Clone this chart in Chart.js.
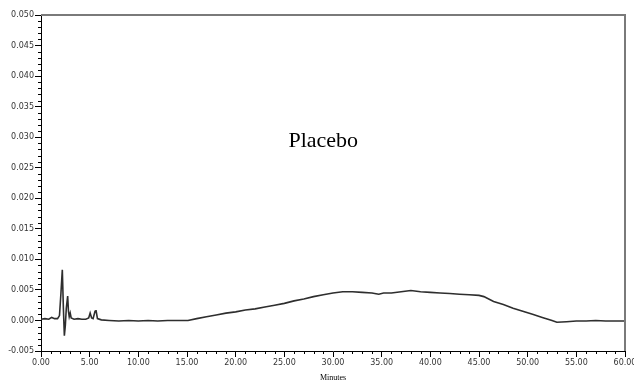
<!DOCTYPE html>
<html>
<head>
<meta charset="utf-8">
<script src="https://cdn.jsdelivr.net/npm/chart.js"></script>
<style>
  body { margin: 0; background: #fff; }
  #wrap { width: 634px; height: 383px; }
</style>
</head>
<body>
<div id="wrap"><canvas id="chromChart" width="634" height="383"></canvas></div>
<script>
// retention time (min) and detector response (AU)
const minutes = [
    0.0, 0.4, 0.8, 1.1, 1.4, 1.7, 1.9, 2.05, 2.19, 2.3, 2.4, 2.5, 2.6, 2.74, 2.82, 2.9, 3.0, 3.1,
    3.4, 3.8, 4.2, 4.6, 4.9, 5.05, 5.2, 5.35, 5.55, 5.65, 5.8, 6.2, 7.0, 8.0, 9.0, 10.0, 11.0,
    12.0, 13.0, 14.0, 15.1, 16.0, 17.0, 18.0, 19.0, 20.0, 21.0, 22.0, 23.0, 24.0, 25.0, 26.0,
    27.0, 28.0, 29.0, 30.0, 31.0, 32.0, 33.0, 34.0, 34.7, 35.2, 36.0, 37.0, 38.0, 39.0, 40.0,
    41.0, 42.0, 43.0, 44.0, 45.0, 45.5, 46.5, 47.5, 48.5, 49.5, 50.5, 51.5, 52.5, 53.0, 54.0,
    55.0, 56.0, 57.0, 58.0, 59.0, 60.0
];
const placebo = [
    0.0002, 0.0003, 0.0002, 0.0005, 0.0003, 0.0003, 0.0008, 0.0045, 0.0083, 0.0020, -0.0025, -0.0008,
    0.0020, 0.0040, 0.0015, 0.0006, 0.0012, 0.0004,
    0.0002, 0.0003, 0.0002, 0.0002, 0.0004, 0.0012, 0.0004, 0.0003, 0.0015, 0.0017, 0.0003, 0.0001,
    0.0000, -0.0001, 0.0000, -0.0001, 0.0000,
    -0.0001, 0.0000, 0.0000, 0.0000, 0.0003, 0.0006, 0.0009, 0.0012, 0.0014, 0.0017, 0.0019, 0.0022,
    0.0025, 0.0028, 0.0032,
    0.0035, 0.0039, 0.0042, 0.0045, 0.0047, 0.0047, 0.0046, 0.0045, 0.0043, 0.0045, 0.0045, 0.0047,
    0.0049, 0.0047, 0.0046,
    0.0045, 0.0044, 0.0043, 0.0042, 0.0041, 0.0039, 0.0031, 0.0026, 0.0020, 0.0015, 0.0010, 0.0005,
    0.0000, -0.0003, -0.0002,
    -0.0001, -0.0001, 0.0000, -0.0001, -0.0001, -0.0001
];
const sampleName = 'Placebo';
const xTitle = 'Minutes';

const tickFont = { family: 'DejaVu Sans', size: 8 };

// small ticks between the labelled ones, plus the grey frame and the sample name
const extrasPlugin = {
    id: 'extras',
    afterDraw(chart) {
        const ctx = chart.ctx;
        const area = chart.chartArea;
        const xs = chart.scales.x;
        const ys = chart.scales.y;
        ctx.save();
        ctx.strokeStyle = '#000';
        ctx.lineWidth = 1;
        ctx.beginPath();
        for (let m = 1; m < 60; m++) {
            if (m % 5 === 0) continue;
            const px = Math.round(xs.getPixelForValue(m)) + 0.5;
            ctx.moveTo(px, area.bottom);
            ctx.lineTo(px, area.bottom + 3);
        }
        for (let i = -4; i < 50; i++) {
            if (i % 5 === 0) continue;
            const py = Math.round(ys.getPixelForValue(i / 1000)) + 0.5;
            ctx.moveTo(area.left - 3, py);
            ctx.lineTo(area.left, py);
        }
        ctx.stroke();

        ctx.strokeStyle = '#7a7a7a';
        ctx.lineWidth = 2;
        ctx.beginPath();
        ctx.moveTo(area.left, area.top);
        ctx.lineTo(area.right, area.top);
        ctx.lineTo(area.right, area.bottom);
        ctx.stroke();

        ctx.fillStyle = '#000';
        ctx.font = '22px "Liberation Serif"';
        ctx.textAlign = 'center';
        ctx.textBaseline = 'middle';
        ctx.fillText(sampleName, xs.getPixelForValue(29), ys.getPixelForValue(0.0294));
        ctx.restore();
    }
};

const ctx = document.getElementById('chromChart').getContext('2d');
new Chart(ctx, {
    type: 'line',
    data: {
        datasets: [{
            label: sampleName,
            data: minutes.map((m, i) => ({ x: m, y: placebo[i] })),
            borderColor: '#2e2e2e',
            borderWidth: 1.6,
            pointRadius: 0,
            tension: 0,
            fill: false
        }]
    },
    options: {
        responsive: false,
        animation: false,
        layout: {
            autoPadding: false,
            padding: { top: 15, right: 9, left: 0, bottom: 0 }
        },
        plugins: {
            legend: { display: false },
            tooltip: { enabled: false }
        },
        scales: {
            x: {
                type: 'linear',
                min: 0,
                max: 60,
                border: { color: '#000', width: 1 },
                grid: { drawOnChartArea: false, tickLength: 6, color: '#000' },
                ticks: {
                    stepSize: 5,
                    autoSkip: false,
                    maxRotation: 0,
                    padding: 1,
                    color: '#333',
                    font: tickFont,
                    callback: v => v.toFixed(2)
                },
                title: {
                    display: true,
                    text: xTitle,
                    color: '#000',
                    font: { family: 'Liberation Serif', size: 8 },
                    padding: 0
                },
                afterFit: s => {
                    s.height = 32;
                    s.paddingLeft = 0;
                    s.paddingRight = 0;
                }
            },
            y: {
                min: -0.005,
                max: 0.05,
                border: { color: '#000', width: 1 },
                grid: { drawOnChartArea: false, tickLength: 6, color: '#000' },
                ticks: {
                    stepSize: 0.005,
                    autoSkip: false,
                    padding: 1,
                    color: '#333',
                    font: tickFont,
                    callback: v => v.toFixed(3)
                },
                afterFit: s => {
                    s.width = 41;
                    s.paddingTop = 0;
                    s.paddingBottom = 0;
                }
            }
        }
    },
    plugins: [extrasPlugin]
});
</script>
</body>
</html>
